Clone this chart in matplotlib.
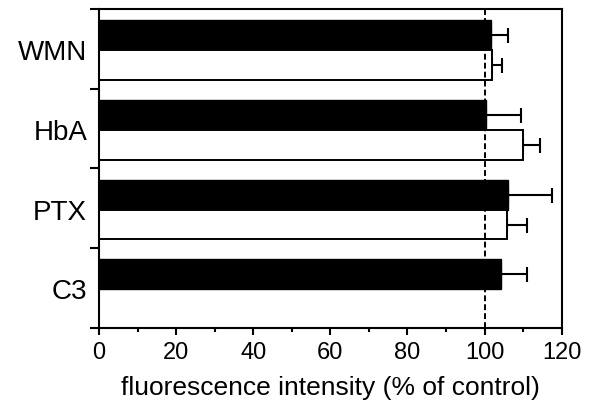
import numpy as np
import matplotlib
matplotlib.use("Agg")
import matplotlib.pyplot as plt

plt.rcParams['font.family'] = ['Liberation Sans', 'DejaVu Sans']

categories = ["WMN", "HbA", "PTX", "C3"]
black_vals = [101.6, 100.4, 106.1, 104.3]
black_err = [4.6, 9.0, 11.3, 6.8]
# C3 has no white bar
white_vals = [102.0, 109.9, 105.9, None]
white_err = [2.6, 4.6, 5.2, None]
x_ticks = [0, 20, 40, 60, 80, 100, 120]

fig = plt.figure(figsize=(5.95, 4.05), dpi=100)
ax = fig.add_axes([0.1664, 0.1909, 0.944 - 0.1664, 0.9778 - 0.1909])

h = 0.375
grp = np.arange(len(categories))
y_black = grp + 0.33
y_white = grp + 0.705

err_kw = dict(ecolor='black', elinewidth=1.5, capsize=5.4, capthick=1.5)

ax.barh(y_black, black_vals, height=h, color='black', edgecolor='black',
        linewidth=1.0, zorder=2)
ax.errorbar(black_vals, y_black, xerr=[np.zeros(4), black_err], fmt='none',
            zorder=1, **err_kw)

wi = [i for i, v in enumerate(white_vals) if v is not None]
wv = [white_vals[i] for i in wi]
we = [white_err[i] for i in wi]
wy = [y_white[i] for i in wi]
ax.barh(wy, wv, height=h, color='white', edgecolor='black',
        linewidth=1.4, zorder=2)
ax.errorbar(wv, wy, xerr=[np.zeros(len(wv)), we], fmt='none',
            zorder=1, **err_kw)

# control level
ax.axvline(100, color='black', lw=1.4, dashes=(3.0, 1.6), zorder=3)

ax.set_xlim(0, 120)
ax.set_ylim(len(categories), 0)

ax.set_xticks(x_ticks)
ax.set_xticks(np.arange(10, 120, 20), minor=True)
ax.tick_params(axis='x', which='major', direction='out', length=5,
               width=1.5, labelsize=17, pad=5)
ax.tick_params(axis='x', which='minor', direction='out', length=3, width=1.5)

ax.set_yticks(grp + 0.52)
ax.set_yticklabels(categories)
ax.set_yticks(np.arange(0, len(categories) + 1), minor=True)
ax.tick_params(axis='y', which='major', length=0, labelsize=20, pad=8.5)
ax.tick_params(axis='y', which='minor', direction='out', length=6.5,
               width=1.5)

for s in ax.spines.values():
    s.set_linewidth(1.5)

ax.set_xlabel("fluorescence intensity (% of control)", fontsize=19,
              labelpad=9)

fig.savefig("out.png", dpi=100)
